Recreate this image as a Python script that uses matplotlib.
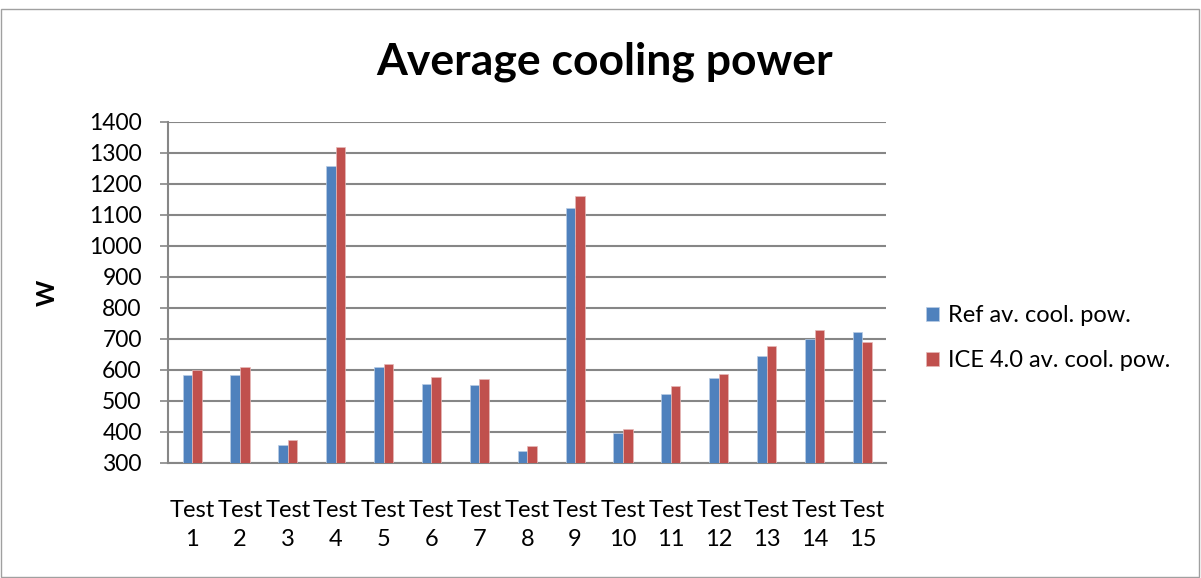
import numpy as np
import matplotlib.pyplot as plt
from matplotlib.patches import Rectangle

plt.rcParams['font.family'] = ['Lato', 'DejaVu Sans']

tests = ['Test\n%d' % i for i in range(1, 16)]
ref_power = [584, 583, 358, 1258, 609, 554, 551, 340, 1124, 397, 523, 574, 645, 701, 723]
ice_power = [600, 610, 373, 1320, 618, 576, 570, 354, 1160, 409, 548, 587, 678, 729, 690]

blue = '#4f81bd'
red = '#c0504d'
grid_col = '#868686'

fig = plt.figure(figsize=(12.01, 5.78), dpi=100)
ax = fig.add_axes([0.140, 0.199, 0.598, 0.590])

x = np.arange(len(tests))
w = 0.2
ax.bar(x - w / 2, ref_power, w, color=blue, edgecolor='#b9cde5', linewidth=0.5,
       label='Ref av. cool. pow.', zorder=3)
ax.bar(x + w / 2, ice_power, w, color=red, edgecolor='#e6b9b8', linewidth=0.5,
       label='ICE 4.0 av. cool. pow.', zorder=3)

ax.set_xlim(-0.5, len(tests) - 0.5)
ax.set_ylim(300, 1400)
ax.set_yticks(np.arange(300, 1401, 100))
ax.set_xticks(x)
ax.set_xticklabels(tests, fontsize=17, linespacing=1.45)
ax.tick_params(axis='y', labelsize=16.5, direction='out', length=6, color=grid_col, width=1.2,
               pad=13)
ax.tick_params(axis='x', length=0, pad=27)
ax.yaxis.grid(True, color=grid_col, linewidth=1.5, zorder=0)
for s in ['top', 'right']:
    ax.spines[s].set_visible(False)
ax.spines['left'].set_color(grid_col)
ax.spines['left'].set_linewidth(1.5)
ax.spines['bottom'].set_color(grid_col)
ax.spines['bottom'].set_linewidth(1.5)

ax.set_ylabel('W', fontsize=18, fontweight='bold', labelpad=22)
fig.text(0.503, 0.893, 'Average cooling power', ha='center', va='center',
         fontsize=32, fontweight='bold')

ax.legend(loc='center left', bbox_to_anchor=(1.025, 0.366), frameon=False,
          fontsize=17, handlelength=0.55, handleheight=0.55, labelspacing=1.0,
          handletextpad=0.4)

fig.patches.append(Rectangle((0.001, 0.002), 0.997, 0.982, transform=fig.transFigure,
                             fill=False, edgecolor='#a0a0a0', linewidth=1))

fig.savefig('out.png', dpi=100)
